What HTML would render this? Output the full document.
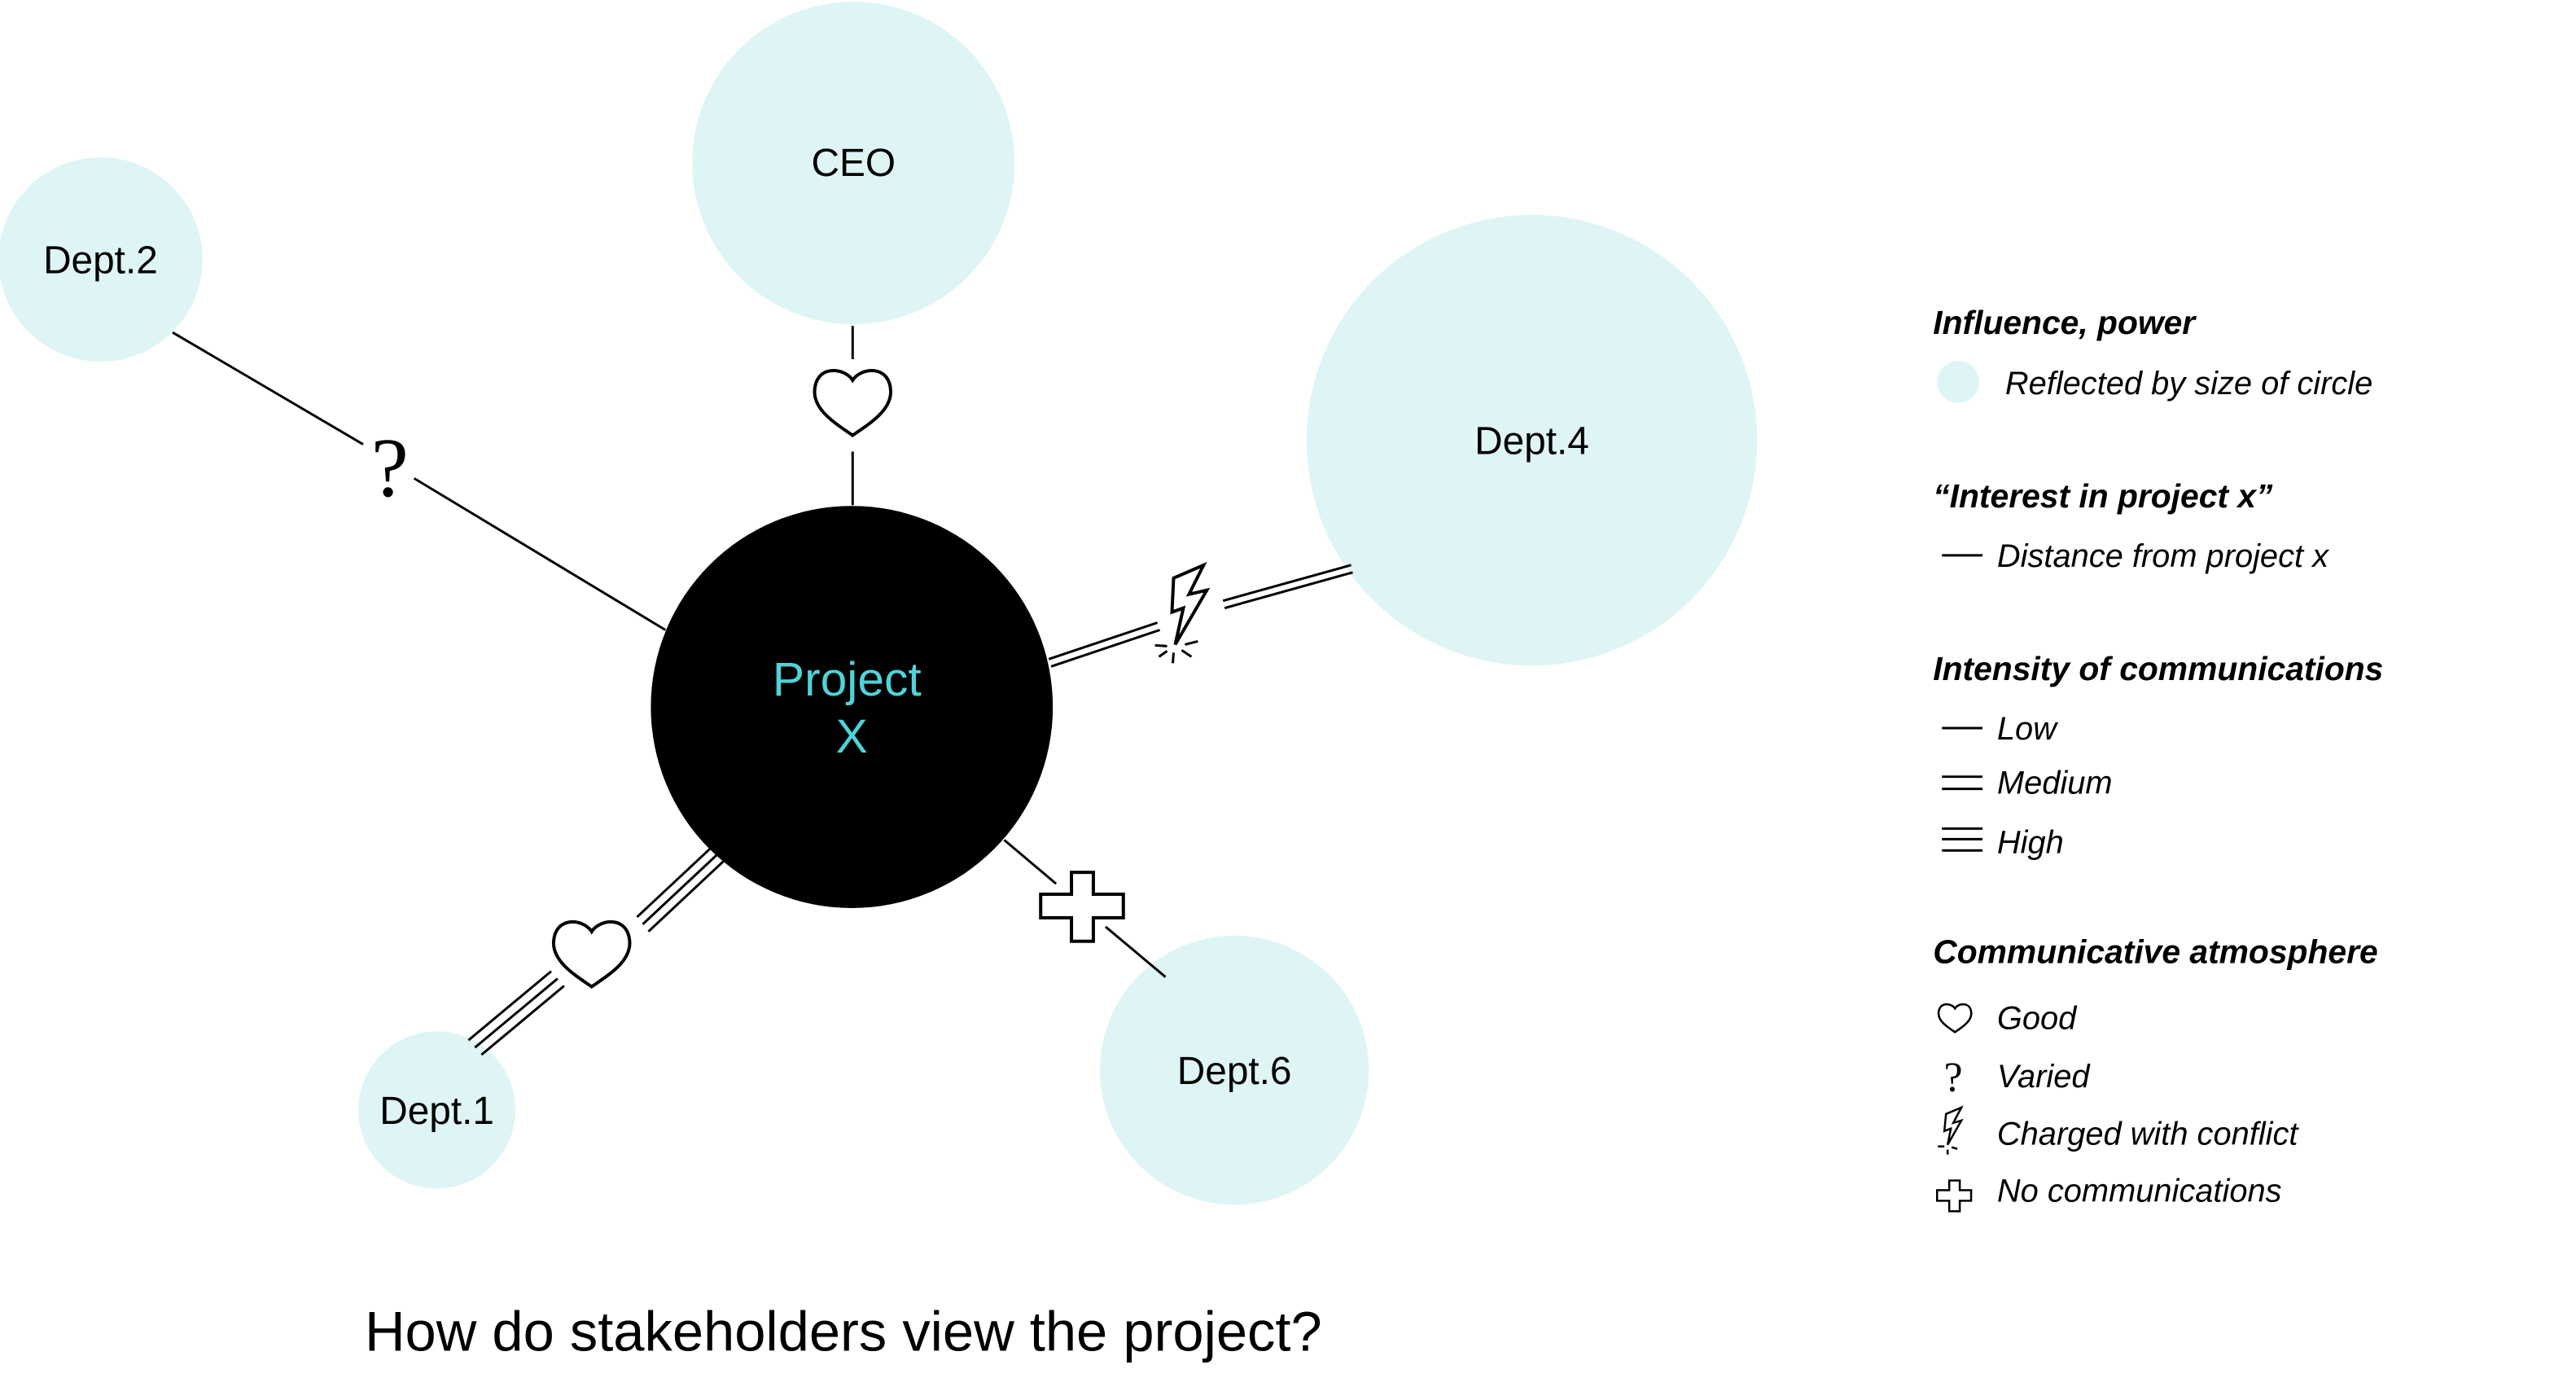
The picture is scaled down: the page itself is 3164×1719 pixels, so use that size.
<!DOCTYPE html>
<html><head><meta charset="utf-8"><style>
html,body{margin:0;padding:0;background:#fff;}
svg{display:block}
text{font-family:"Liberation Sans",Arial,sans-serif;}
.lg{font-style:italic;font-size:40px;}
.hd{font-style:italic;font-weight:bold;font-size:41px;}
</style></head><body>
<svg width="3164" height="1719" viewBox="0 0 3164 1719" xmlns="http://www.w3.org/2000/svg">
<defs>
<path id="heart" d="M0,-26 C10,-42 46,-46 47,-12 C47,12 20,28 0,42 C-20,28 -47,12 -47,-12 C-46,-46 -10,-42 0,-26 Z"/>
</defs>
<g transform="scale(0.9955)">
<g fill="#dff5f5">
<circle cx="1053" cy="201" r="199"/>
<circle cx="124" cy="320" r="126"/>
<circle cx="1890" cy="543" r="278"/>
<circle cx="539" cy="1369" r="97"/>
<circle cx="1523" cy="1320" r="166"/>
</g>
<circle cx="1051" cy="872" r="248" fill="#000"/>
<g stroke="#000" stroke-width="3" fill="none">
<line x1="1052" y1="402" x2="1052" y2="443"/>
<line x1="1052" y1="557" x2="1052" y2="623"/>
<use href="#heart" transform="translate(1052,495)" stroke-width="4"/>
<line x1="213" y1="410" x2="448" y2="548"/>
<line x1="511" y1="590" x2="821" y2="777"/>
<line x1="1294" y1="813" x2="1428" y2="768"/>
<line x1="1297" y1="822" x2="1431" y2="777"/>
<line x1="1509" y1="741" x2="1667" y2="697"/>
<line x1="1511" y1="750" x2="1669" y2="706"/>
<path d="M1448,713 L1485,697 L1467,733 L1489,728 L1450,795 L1460,750 L1446,755 Z" stroke-width="4" stroke-linejoin="miter"/>
<line x1="1425" y1="796" x2="1440" y2="797"/>
<line x1="1430" y1="810" x2="1440" y2="803"/>
<line x1="1448" y1="805" x2="1447" y2="818"/>
<line x1="1458" y1="802" x2="1470" y2="810"/>
<line x1="1462" y1="795" x2="1478" y2="791"/>
<line x1="878" y1="1045" x2="786" y2="1131"/>
<line x1="886" y1="1053" x2="793" y2="1140"/>
<line x1="894" y1="1061" x2="800" y2="1149"/>
<line x1="680" y1="1198" x2="578" y2="1283"/>
<line x1="688" y1="1207" x2="586" y2="1292"/>
<line x1="696" y1="1216" x2="594" y2="1301"/>
<use href="#heart" transform="translate(730,1175)" stroke-width="4"/>
<line x1="1239" y1="1036" x2="1303" y2="1090"/>
<line x1="1364" y1="1143" x2="1438" y2="1205"/>
<path d="M1322,1076 H1349 V1103 H1386 V1132 H1349 V1161 H1322 V1132 H1284 V1103 H1322 Z" stroke-width="4"/>
</g>
<text x="481" y="612" font-size="104" text-anchor="middle" style="font-family:'Liberation Serif',serif">?</text>
<g font-size="48" text-anchor="middle" fill="#000">
<text x="1053" y="217">CEO</text>
<text x="124" y="337">Dept.2</text>
<text x="1890" y="560">Dept.4</text>
<text x="539" y="1386">Dept.1</text>
<text x="1523" y="1337">Dept.6</text>
</g>
<g font-size="59" text-anchor="middle" fill="#4fd3da">
<text x="1045" y="858">Project</text>
<text x="1051" y="928">X</text>
</g>
<text x="450" y="1666" font-size="69">How do stakeholders view the project?</text>
<text class="hd" x="2385" y="412">Influence, power</text>
<circle cx="2416" cy="471" r="26" fill="#dff5f5"/>
<text class="lg" x="2474" y="486">Reflected by size of circle</text>
<text class="hd" x="2385" y="626">“Interest in project x”</text>
<g stroke="#000" stroke-width="3">
<line x1="2396" y1="685" x2="2446" y2="685"/>
<line x1="2396" y1="898" x2="2446" y2="898"/>
<line x1="2396" y1="958" x2="2446" y2="958"/>
<line x1="2396" y1="973" x2="2446" y2="973"/>
<line x1="2396" y1="1022" x2="2446" y2="1022"/>
<line x1="2396" y1="1035" x2="2446" y2="1035"/>
<line x1="2396" y1="1049" x2="2446" y2="1049"/>
</g>
<text class="lg" x="2464" y="699">Distance from project x</text>
<text class="hd" x="2385" y="839">Intensity of communications</text>
<text class="lg" x="2464" y="912">Low</text>
<text class="lg" x="2464" y="979">Medium</text>
<text class="lg" x="2464" y="1052">High</text>
<text class="hd" x="2385" y="1188">Communicative atmosphere</text>
<use href="#heart" transform="translate(2412,1255) scale(0.43)" fill="none" stroke="#000" stroke-width="6"/>
<text x="2410" y="1346" font-size="52" text-anchor="middle" style="font-family:'Liberation Serif',serif">?</text>
<g fill="none" stroke="#000" stroke-width="2.5">
<path d="M2401,1374 L2420,1366 L2410,1385 L2420,1382 L2403,1412 L2407,1392 L2399,1395 Z"/>
<line x1="2391" y1="1414" x2="2399" y2="1414"/>
<line x1="2403" y1="1418" x2="2403" y2="1424"/>
<line x1="2408" y1="1415" x2="2415" y2="1417"/>
<path d="M2405,1456 H2418 V1468 H2432 V1481 H2418 V1494 H2405 V1481 H2390 V1468 H2405 Z"/>
</g>
<text class="lg" x="2464" y="1269">Good</text>
<text class="lg" x="2464" y="1341">Varied</text>
<text class="lg" x="2464" y="1412">Charged with conflict</text>
<text class="lg" x="2464" y="1482">No communications</text>
</g>
</svg>
</body></html>
